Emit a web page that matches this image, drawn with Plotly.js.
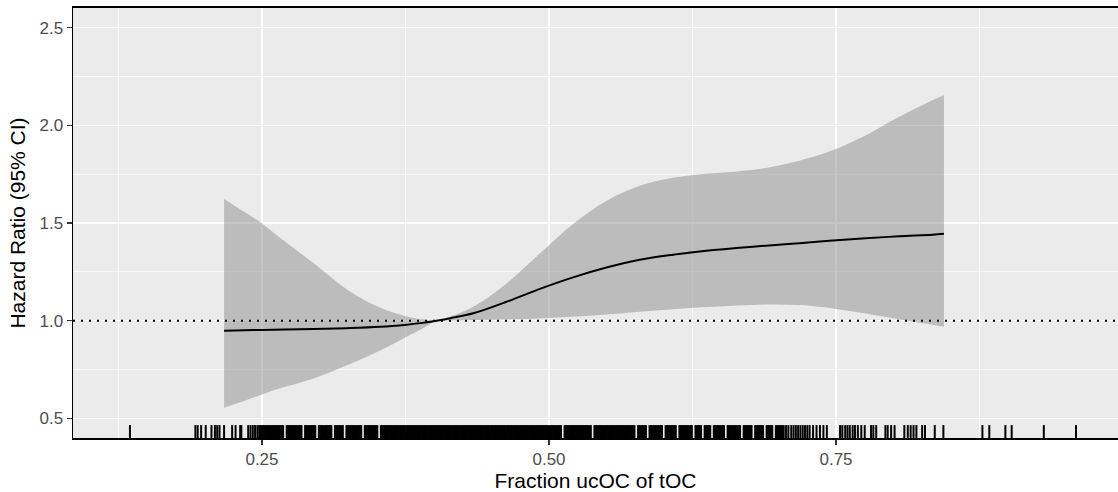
<!DOCTYPE html>
<html>
<head>
<meta charset="utf-8">
<script src="https://cdn.plot.ly/plotly-3.0.1.min.js"></script>
<style>html,body{margin:0;padding:0;background:#fff;}#chart{width:1118px;height:492px;}</style>
</head>
<body>
<div id="chart"></div>
<script>
// Spline fit: fraction ucOC of tOC vs hazard ratio with 95% CI
const fitX = [0.217, 0.235, 0.25, 0.27, 0.295, 0.324, 0.353, 0.376, 0.39, 0.402, 0.415, 0.434, 0.463, 0.492, 0.521, 0.55, 0.579, 0.608, 0.637, 0.666, 0.689, 0.718, 0.747, 0.776, 0.805, 0.834, 0.844];
const hazardRatio = [0.949, 0.951, 0.953, 0.955, 0.958, 0.962, 0.969, 0.980, 0.989, 1.0, 1.014, 1.038, 1.097, 1.163, 1.222, 1.272, 1.312, 1.338, 1.358, 1.373, 1.384, 1.397, 1.410, 1.422, 1.432, 1.440, 1.445];
const ciUpper = [1.623, 1.555, 1.498, 1.405, 1.294, 1.160, 1.066, 1.022, 1.007, 1.0, 1.024, 1.072, 1.191, 1.344, 1.495, 1.612, 1.690, 1.731, 1.752, 1.765, 1.782, 1.819, 1.872, 1.949, 2.043, 2.128, 2.153];
const ciLower = [0.555, 0.591, 0.623, 0.662, 0.705, 0.772, 0.848, 0.918, 0.960, 1.0, 1.001, 1.003, 1.007, 1.012, 1.02, 1.032, 1.046, 1.059, 1.070, 1.078, 1.083, 1.080, 1.063, 1.037, 1.007, 0.979, 0.969];

// Observed values (rug)
const rugLeft = [0.135, 0.192, 0.194, 0.197, 0.201, 0.206, 0.209, 0.211, 0.213, 0.217, 0.224, 0.227, 0.231, 0.232, 0.238, 0.240, 0.242, 0.244, 0.246];
const rugDense = [
  0.248,0.250,0.252,0.254,0.256,0.258,0.260,0.262,0.264,0.266,0.268,
  0.272,0.274,0.276,0.278,0.280,0.282,0.284,0.288,0.290,0.292,0.294,0.296,
  0.300,0.302,0.304,0.306,0.308,0.310,0.314,0.316,0.318,0.320,0.324,0.326,0.328,
  0.330,0.332,0.334,0.336,0.340,0.342,0.344,0.346,0.348,0.350,0.354,0.356,0.358,
  0.360,0.362,0.364,0.366,0.368,0.370,0.372,0.374,0.376,0.378,0.380,0.382,0.384,
  0.386,0.388,0.390,0.392,0.394,0.396,0.398,0.400,0.402,0.404,0.406,0.408,0.410,
  0.412,0.414,0.416,0.418,0.420,0.422,0.424,0.426,0.428,0.430,0.432,0.434,0.436,
  0.438,0.440,0.442,0.444,0.446,0.448,0.450,0.452,0.454,0.456,0.458,0.460,0.462,
  0.464,0.466,0.468,0.470,0.472,0.474,0.476,0.478,0.480,0.482,0.484,0.486,0.488,
  0.490,0.492,0.494,0.496,0.498,0.500,0.502,0.504,0.506,0.508,0.510,0.514,0.516,
  0.518,0.520,0.522,0.524,0.526,0.528,0.530,0.532,0.534,0.536,0.540,0.542,0.544,
  0.546,0.548,0.550,0.552,0.554,0.556,0.558,0.560,0.562,0.564,0.566,0.568,0.570,
  0.572,0.574,0.578,0.580,0.582,0.584,0.588,0.590,0.592,0.594,0.596,0.598,0.602,
  0.604,0.606,0.608,0.610,0.614,0.616,0.618,0.620,0.622,0.624,0.628,0.630,0.632,
  0.636,0.638,0.640,0.644,0.646,0.648,0.650,0.652,0.656,0.658,0.660,0.662,0.664,
  0.666,0.670,0.672,0.674,0.676,0.680,0.682,0.684,0.686,0.690,0.692,0.694,0.698,
  0.700,0.702,0.704
];
const rugRight = [0.7065, 0.7085, 0.711, 0.713, 0.715, 0.717, 0.719, 0.721, 0.723, 0.725, 0.727, 0.730, 0.733, 0.736, 0.739, 0.742, 0.7535, 0.7555, 0.758, 0.760, 0.762, 0.7645, 0.7665, 0.769, 0.772, 0.775, 0.7805, 0.7825, 0.785, 0.793, 0.795, 0.798, 0.801, 0.8095, 0.8125, 0.815, 0.8175, 0.820, 0.825, 0.8275, 0.836, 0.8435, 0.8775, 0.8835, 0.8975, 0.903, 0.931, 0.959];

const xTickVals = [0.25, 0.50, 0.75];
const xTickText = ['0.25', '0.50', '0.75'];
const yTickVals = [0.5, 1.0, 1.5, 2.0, 2.5];
const yTickText = ['0.5', '1.0', '1.5', '2.0', '2.5'];
const xMinor = [0.125, 0.375, 0.625, 0.875];
const yMinor = [0.75, 1.25, 1.75, 2.25];
const referenceHR = 1.0;

const xRange = [0.0854, 0.9956];
const yRange = [0.4, 2.6];
const rugLen = 0.03 * (yRange[1] - yRange[0]);

function rugPath(vals) {
  const xs = [], ys = [];
  vals.forEach(v => { xs.push(v, v, null); ys.push(yRange[0], yRange[0] + rugLen, null); });
  return {xs, ys};
}
const rugSparse = rugPath(rugLeft.concat(rugRight));
const rugSolid = rugPath(rugDense);

const FONT = 'Liberation Sans, Arial, Helvetica, sans-serif';
const SM = 1.0;

const traces = [
  {x: fitX, y: ciLower, type: 'scatter', mode: 'lines', line: {width: 0, shape: 'spline', smoothing: SM}, hoverinfo: 'skip', showlegend: false},
  {x: fitX, y: ciUpper, type: 'scatter', mode: 'lines', fill: 'tonexty', fillcolor: 'rgba(150,150,150,0.55)', line: {width: 0, shape: 'spline', smoothing: SM}, hoverinfo: 'skip', showlegend: false},
  {x: fitX, y: hazardRatio, type: 'scatter', mode: 'lines', line: {color: '#000000', width: 2, shape: 'spline', smoothing: SM}, showlegend: false},
  {x: rugSparse.xs, y: rugSparse.ys, type: 'scatter', mode: 'lines', line: {color: '#000000', width: 2}, hoverinfo: 'skip', showlegend: false},
  {x: rugSolid.xs, y: rugSolid.ys, type: 'scatter', mode: 'lines', line: {color: '#000000', width: 3}, hoverinfo: 'skip', showlegend: false}
];

const layout = {
  width: 1118, height: 492,
  margin: {l: 73, r: 0, t: 8, b: 54},
  paper_bgcolor: '#FFFFFF',
  plot_bgcolor: '#EBEBEB',
  font: {family: FONT, color: '#000000'},
  showlegend: false,
  xaxis: {
    range: xRange, tickmode: 'array', tickvals: xTickVals, ticktext: xTickText,
    showgrid: true, gridcolor: '#FFFFFF', gridwidth: 1.4, zeroline: false,
    minor: {tickmode: 'array', tickvals: xMinor, showgrid: true, gridcolor: '#FFFFFF', gridwidth: 0.7, ticks: ''},
    ticks: 'outside', ticklen: 5, tickwidth: 1.1, tickcolor: '#333333',
    tickfont: {size: 17, color: '#4D4D4D', family: FONT},
    showline: true, linecolor: '#000000', linewidth: 1.6, mirror: true,
    title: {text: 'Fraction ucOC of tOC', font: {size: 21, color: '#000000', family: FONT}, standoff: 4},
    automargin: false
  },
  yaxis: {
    range: yRange, tickmode: 'array', tickvals: yTickVals, ticktext: yTickText,
    showgrid: true, gridcolor: '#FFFFFF', gridwidth: 1.4, zeroline: false,
    minor: {tickmode: 'array', tickvals: yMinor, showgrid: true, gridcolor: '#FFFFFF', gridwidth: 0.7, ticks: ''},
    ticks: 'outside', ticklen: 5, tickwidth: 1.1, tickcolor: '#333333',
    tickfont: {size: 17, color: '#4D4D4D', family: FONT},
    showline: true, linecolor: '#000000', linewidth: 1.5, mirror: false,
    title: {text: 'Hazard Ratio (95% CI)', font: {size: 21, color: '#000000', family: FONT}, standoff: 8},
    automargin: false
  },
  shapes: [
    {type: 'line', xref: 'paper', x0: 0, x1: 1, yref: 'y', y0: referenceHR, y1: referenceHR,
     line: {color: '#000000', width: 2, dash: '2px,6px'}, layer: 'above'}
  ]
};

Plotly.newPlot('chart', traces, layout, {displayModeBar: false, staticPlot: true});
</script>
</body>
</html>
